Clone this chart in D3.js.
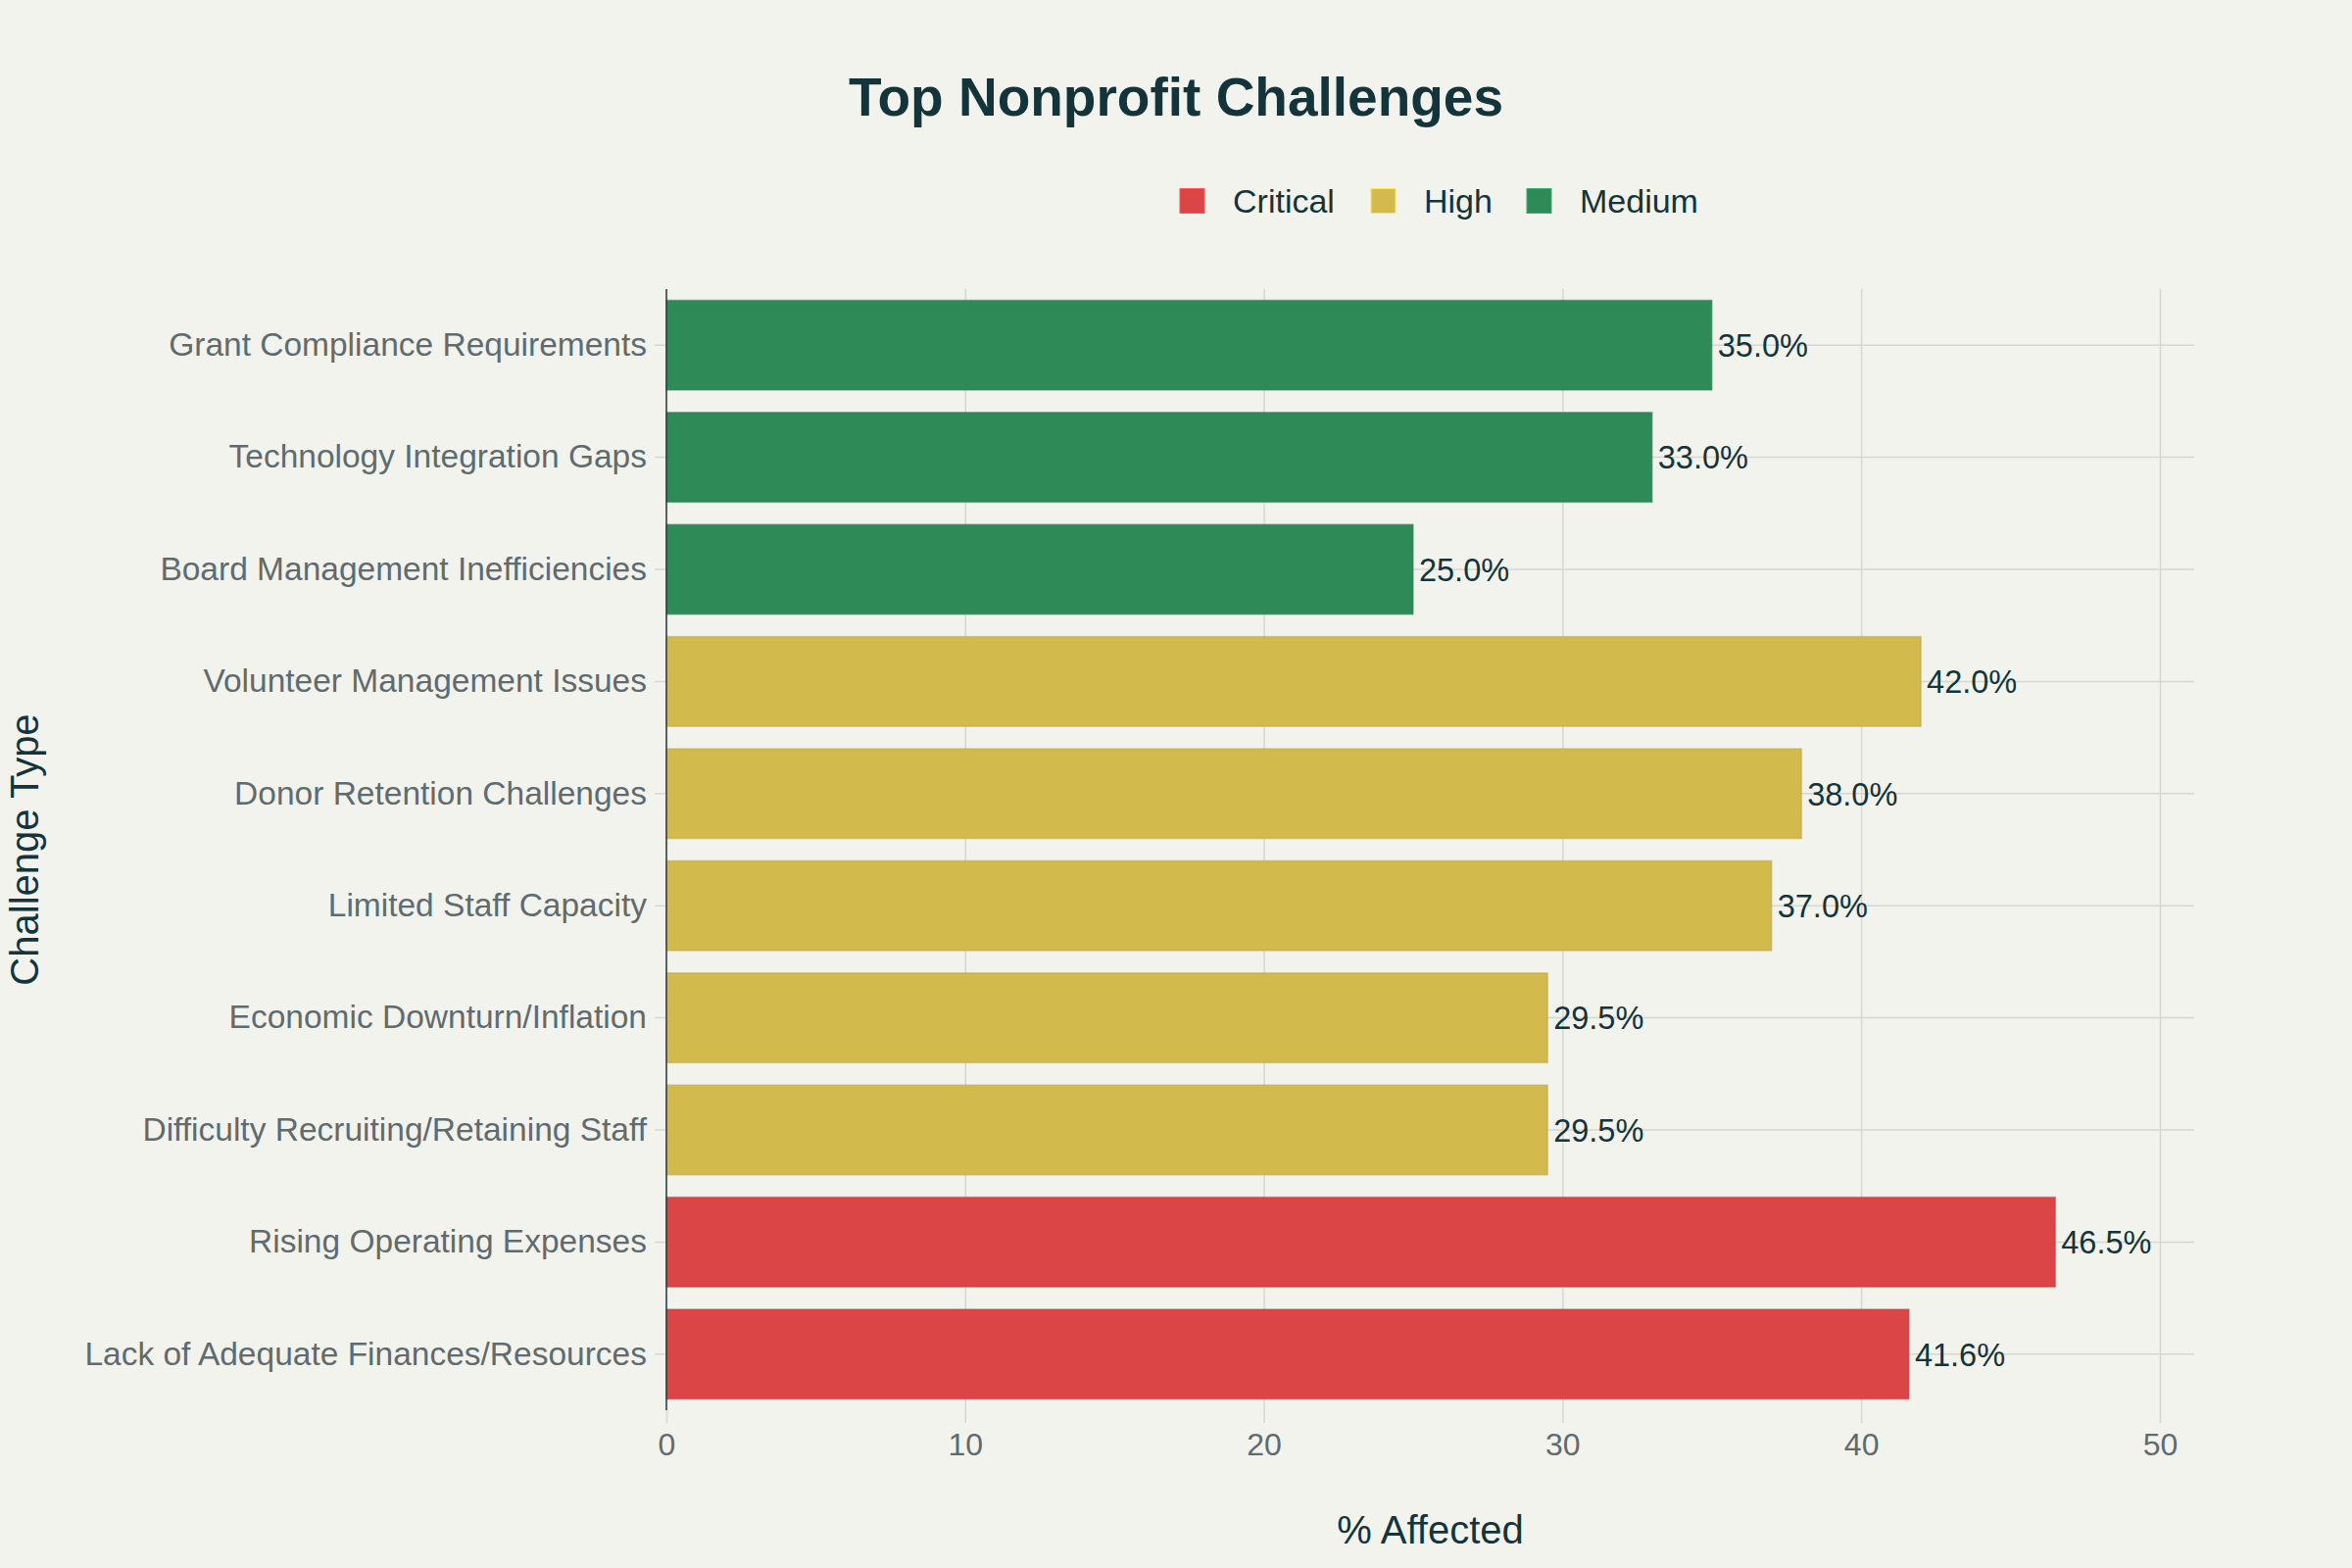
<!DOCTYPE html>
<html>
<head>
<meta charset="utf-8">
<script src="https://cdn.jsdelivr.net/npm/d3@7"></script>
<style>
  html, body { margin: 0; padding: 0; background: #F3F3EE; }
  svg { display: block; }
  text { font-family: "Liberation Sans", Arial, sans-serif; }
</style>
</head>
<body>
<svg id="chart" width="2400" height="1600"></svg>
<script>
// ---- data (top-to-bottom order as displayed) ----
const categories = [
  "Grant Compliance Requirements",
  "Technology Integration Gaps",
  "Board Management Inefficiencies",
  "Volunteer Management Issues",
  "Donor Retention Challenges",
  "Limited Staff Capacity",
  "Economic Downturn/Inflation",
  "Difficulty Recruiting/Retaining Staff",
  "Rising Operating Expenses",
  "Lack of Adequate Finances/Resources"
];
const values = [35.0, 33.0, 25.0, 42.0, 38.0, 37.0, 29.5, 29.5, 46.5, 41.6];
const severity = ["Medium", "Medium", "Medium", "High", "High", "High", "High", "High", "Critical", "Critical"];
const severityLevels = ["Critical", "High", "Medium"];
const severityColors = ["#DB4545", "#D2BA4C", "#2E8B57"];
const xTicks = [0, 10, 20, 30, 40, 50];
const titleText = "Top Nonprofit Challenges";
const xAxisTitle = "% Affected";
const yAxisTitle = "Challenge Type";

// ---- layout ----
const W = 2400, H = 1600;
const plot = { left: 680, right: 2239, top: 295, bottom: 1439 };
const textDark = "#13343B";
const tickGray = "#5F6B6E";
const gridColor = "#D6D7D2";

const svg = d3.select("#chart");
svg.append("rect").attr("width", W).attr("height", H).attr("fill", "#F3F3EE");

const x = d3.scaleLinear().domain([0, 51.15]).range([plot.left, plot.right]);
const y = d3.scaleBand().domain(categories).range([plot.top, plot.bottom])
  .paddingInner(0.2).paddingOuter(0.1);
const color = d3.scaleOrdinal().domain(severityLevels).range(severityColors);

const rows = categories.map((c, i) => ({ cat: c, val: values[i], sev: severity[i] }));

// vertical gridlines (with outside tick extension)
const xAxis = d3.axisBottom(x).tickValues(xTicks).tickFormat(d3.format("d"))
  .tickSizeInner(-(plot.bottom - plot.top)).tickSizeOuter(0).tickPadding(24);
const gx = svg.append("g").attr("transform", `translate(0,${plot.bottom})`).call(xAxis);
gx.select(".domain").remove();
gx.selectAll(".tick line").attr("stroke", gridColor).attr("stroke-width", 1.5)
  .attr("y1", 13).attr("y2", -(plot.bottom - plot.top));
gx.selectAll(".tick text").attr("fill", tickGray).attr("font-size", 32)
  .attr("dy", "0.71em").attr("y", 23);

// horizontal gridlines at category centers + left ticks
const yAxis = d3.axisLeft(y).tickSizeInner(-(plot.right - plot.left)).tickSizeOuter(0).tickPadding(20);
const gy = svg.append("g").attr("transform", `translate(${plot.left},0)`).call(yAxis);
gy.select(".domain").remove();
gy.selectAll(".tick line").attr("stroke", gridColor).attr("stroke-width", 1.5)
  .attr("x1", -12).attr("x2", plot.right - plot.left);
gy.selectAll(".tick text").attr("fill", tickGray).attr("font-size", 33.5).attr("x", -20);

// bars
svg.append("g").selectAll("rect").data(rows).join("rect")
  .attr("x", x(0))
  .attr("y", d => y(d.cat))
  .attr("width", d => x(d.val) - x(0))
  .attr("height", y.bandwidth())
  .attr("fill", d => color(d.sev))
  .attr("stroke", d => d3.color(color(d.sev)).darker(0.35))
  .attr("stroke-opacity", 0.5)
  .attr("stroke-width", 1.5);

// value labels
svg.append("g").selectAll("text").data(rows).join("text")
  .attr("x", d => x(d.val) + 6)
  .attr("y", d => y(d.cat) + y.bandwidth() / 2)
  .attr("dy", "0.36em")
  .attr("fill", textDark)
  .attr("font-size", 32.5)
  .text(d => d.val.toFixed(1) + "%");

// left axis line
svg.append("line").attr("x1", plot.left).attr("x2", plot.left)
  .attr("y1", plot.top).attr("y2", plot.bottom)
  .attr("stroke", "#2B3A3F").attr("stroke-width", 1.5);

// title
svg.append("text").attr("x", 1200).attr("y", 118).attr("text-anchor", "middle")
  .attr("fill", textDark).attr("font-size", 55).attr("font-weight", "bold")
  .text(titleText);

// legend
const legendX = [1204, 1399, 1558];
const lg = svg.append("g").selectAll("g").data(severityLevels).join("g")
  .attr("transform", (d, i) => `translate(${legendX[i]},205)`);
lg.append("rect").attr("x", 0).attr("y", -12.5).attr("width", 25).attr("height", 25)
  .attr("fill", d => color(d))
  .attr("stroke", d => d3.color(color(d)).brighter(0.6)).attr("stroke-width", 1);
lg.append("text").attr("x", 54).attr("dy", "0.36em").attr("fill", textDark)
  .attr("font-size", 34).text(d => d);

// axis titles
svg.append("text").attr("x", (plot.left + plot.right) / 2).attr("y", 1561)
  .attr("dy", "0.36em").attr("text-anchor", "middle").attr("fill", textDark)
  .attr("font-size", 40).text(xAxisTitle);
svg.append("text").attr("transform", `translate(25,${(plot.top + plot.bottom) / 2}) rotate(-90)`)
  .attr("dy", "0.36em").attr("text-anchor", "middle").attr("fill", textDark)
  .attr("font-size", 40).text(yAxisTitle);
</script>
</body>
</html>
